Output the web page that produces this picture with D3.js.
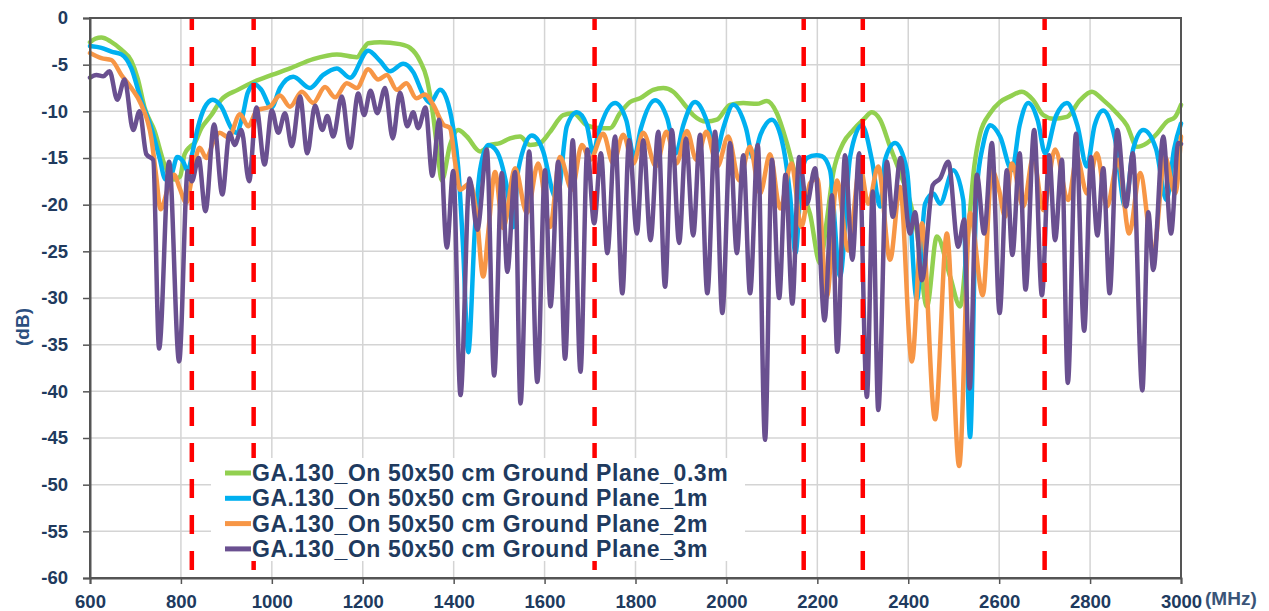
<!DOCTYPE html>
<html>
<head>
<meta charset="utf-8">
<script src="https://cdn.jsdelivr.net/npm/d3@7"></script>
<style>
  body { margin: 0; background: #fff; }
  svg { display: block; font-family: "Liberation Sans", Arial, sans-serif; }
</style>
</head>
<body>
<svg id="chart" width="1269" height="611"></svg>
<script>
'use strict';

// frequency (MHz), gain (dB)
var green = [[600,-2.6],[612,-2.2],[625,-2.1],[645,-2.5],[669,-3.4],[691,-4.6],[705,-6.5],[720,-9.6],[742,-12.1],[764,-15.7],[785,-17.3],[798,-17.0],[808,-14.6],[820,-13.8],[830,-13.4],[845,-11.8],[867,-10.4],[889,-8.75],[925,-7.7],[962,-6.8],[1000,-6.1],[1040,-5.4],[1091,-4.4],[1143,-3.9],[1187,-4.2],[1200,-3.4],[1212,-2.7],[1238,-2.6],[1282,-2.8],[1304,-3.2],[1326,-4.6],[1341,-6.5],[1355,-10.5],[1366,-15.0],[1374,-17.4],[1392,-13.6],[1410,-12.0],[1429,-12.7],[1458,-14.3],[1480,-13.6],[1502,-13.4],[1524,-12.9],[1546,-12.7],[1568,-13.6],[1590,-13.4],[1612,-12.2],[1641,-10.4],[1663,-10.2],[1693,-11.5],[1722,-11.8],[1744,-11.8],[1766,-10.2],[1788,-9.0],[1810,-8.6],[1839,-7.7],[1861,-7.5],[1883,-7.9],[1905,-9.1],[1927,-10.4],[1956,-11.1],[1979,-10.9],[2008,-9.3],[2037,-9.1],[2067,-9.2],[2089,-8.9],[2111,-10.2],[2133,-13.4],[2155,-17.4],[2184,-21.0],[2206,-26.3],[2220,-22.0],[2235,-16.6],[2257,-13.4],[2279,-12.0],[2301,-10.9],[2320,-10.1],[2338,-10.9],[2360,-13.8],[2382,-16.6],[2404,-19.7],[2419,-22.9],[2441,-30.9],[2463,-23.4],[2492,-27.7],[2514,-30.9],[2530,-24.0],[2545,-16.0],[2558,-12.4],[2580,-10.2],[2602,-9.0],[2624,-8.4],[2650,-7.9],[2675,-8.8],[2697,-10.4],[2719,-10.8],[2749,-10.6],[2778,-8.8],[2804,-7.9],[2829,-8.8],[2859,-10.2],[2881,-11.5],[2903,-13.8],[2925,-13.4],[2947,-12.4],[2969,-11.1],[2987,-10.6],[3000,-9.3]];

var blue = [[600,-3.0],[625,-3.2],[647,-3.6],[669,-3.9],[691,-5.4],[713,-8.9],[735,-11.8],[753,-15.0],[766,-17.3],[779,-16.8],[792,-14.9],[805,-15.4],[815,-16.4],[825,-14.5],[837,-11.8],[852,-9.6],[870,-8.75],[889,-9.5],[911,-11.8],[922,-12.3],[936,-10.4],[947,-8.0],[962,-7.1],[977,-7.7],[999,-9.6],[1018,-7.5],[1047,-6.3],[1084,-7.5],[1113,-6.1],[1143,-5.4],[1172,-6.4],[1212,-3.5],[1238,-4.6],[1260,-5.7],[1289,-4.9],[1311,-5.8],[1333,-8.2],[1348,-9.1],[1370,-7.7],[1384,-8.6],[1399,-11.8],[1410,-16.0],[1421,-24.9],[1432,-35.8],[1447,-22.4],[1458,-16.3],[1476,-13.6],[1495,-14.3],[1517,-18.1],[1531,-22.4],[1542,-16.3],[1572,-12.6],[1597,-14.3],[1619,-18.8],[1627,-19.5],[1649,-11.6],[1671,-10.1],[1693,-11.5],[1707,-14.5],[1718,-12.4],[1755,-9.1],[1780,-11.0],[1797,-14.9],[1812,-11.8],[1843,-8.8],[1870,-10.8],[1889,-14.5],[1905,-11.5],[1931,-9.0],[1958,-11.2],[1977,-14.5],[1993,-11.8],[2015,-9.3],[2043,-11.8],[2059,-15.0],[2075,-12.5],[2100,-10.9],[2125,-13.8],[2140,-19.0],[2152,-25.2],[2165,-17.0],[2177,-15.0],[2198,-14.7],[2210,-14.8],[2228,-16.3],[2250,-27.7],[2272,-14.9],[2298,-11.5],[2320,-15.2],[2338,-20.2],[2349,-15.2],[2371,-13.4],[2397,-16.3],[2419,-30.2],[2437,-19.9],[2455,-18.8],[2470,-19.9],[2499,-16.3],[2521,-19.5],[2536,-44.9],[2550,-18.8],[2565,-13.5],[2580,-11.5],[2602,-12.7],[2628,-16.3],[2645,-11.5],[2664,-9.1],[2685,-11.0],[2701,-14.5],[2725,-10.5],[2749,-9.1],[2772,-11.5],[2793,-15.9],[2810,-11.5],[2829,-9.9],[2855,-13.0],[2877,-20.2],[2895,-14.0],[2917,-12.0],[2945,-14.0],[2968,-19.5],[2985,-14.0],[3000,-11.3]];

var orange = [[600,-3.75],[625,-4.3],[647,-4.5],[669,-6.1],[691,-7.5],[713,-9.3],[735,-12.9],[746,-17.1],[755,-20.5],[772,-18.2],[785,-16.8],[797,-18.2],[812,-19.8],[823,-17.5],[841,-13.9],[856,-15.0],[872,-13.2],[885,-12.3],[905,-12.8],[930,-10.3],[948,-11.6],[967,-9.9],[996,-9.5],[1018,-8.3],[1040,-9.5],[1066,-7.9],[1091,-9.1],[1117,-7.4],[1139,-8.5],[1165,-7.0],[1187,-7.5],[1212,-5.5],[1234,-6.6],[1253,-6.1],[1275,-7.7],[1296,-7.0],[1318,-8.6],[1337,-8.2],[1355,-9.3],[1377,-11.4],[1392,-11.8],[1403,-15.4],[1414,-18.4],[1436,-17.7],[1451,-21.3],[1465,-27.7],[1476,-23.0],[1491,-16.5],[1509,-22.5],[1535,-16.1],[1561,-20.9],[1586,-15.6],[1612,-22.4],[1634,-14.9],[1660,-18.4],[1682,-13.6],[1700,-15.2],[1729,-12.4],[1751,-15.6],[1773,-12.5],[1795,-15.6],[1817,-12.3],[1845,-15.9],[1868,-12.2],[1890,-15.6],[1913,-12.1],[1934,-15.2],[1956,-12.2],[1980,-15.9],[2004,-12.7],[2028,-17.4],[2052,-13.8],[2074,-18.8],[2096,-14.6],[2118,-20.4],[2143,-15.6],[2165,-22.4],[2184,-17.7],[2200,-17.2],[2221,-29.9],[2243,-17.4],[2268,-24.9],[2294,-15.9],[2312,-19.9],[2334,-15.9],[2360,-25.9],[2382,-18.1],[2408,-36.8],[2430,-22.0],[2459,-43.0],[2485,-23.1],[2512,-48.0],[2536,-20.9],[2564,-29.7],[2584,-16.3],[2600,-18.5],[2613,-21.3],[2628,-15.6],[2653,-20.2],[2675,-14.9],[2697,-20.6],[2723,-14.1],[2752,-19.5],[2771,-14.9],[2793,-18.8],[2815,-14.5],[2837,-20.2],[2862,-15.2],[2886,-23.1],[2910,-16.6],[2939,-25.2],[2965,-14.9],[2987,-18.8],[3000,-12.7]];

var purple = [[600,-6.4],[614,-6.1],[629,-6.25],[643,-5.7],[660,-8.75],[676,-6.6],[695,-12.0],[709,-10.0],[724,-14.6],[739,-15.2],[752,-35.4],[774,-15.4],[796,-36.8],[815,-16.4],[824,-17.5],[839,-15.0],[854,-20.7],[873,-11.4],[891,-18.9],[907,-12.3],[918,-13.6],[933,-12.0],[950,-17.5],[966,-9.6],[984,-15.7],[1000,-9.9],[1014,-12.3],[1029,-10.2],[1044,-13.75],[1062,-8.4],[1078,-14.5],[1095,-9.4],[1111,-12.0],[1122,-10.5],[1135,-12.7],[1154,-8.4],[1172,-13.9],[1190,-8.1],[1203,-10.4],[1217,-7.8],[1232,-10.2],[1249,-7.5],[1266,-12.9],[1282,-8.0],[1298,-11.6],[1311,-10.1],[1322,-11.8],[1338,-9.6],[1353,-16.9],[1368,-10.9],[1385,-24.6],[1399,-16.4],[1415,-40.4],[1435,-17.2],[1452,-22.7],[1473,-14.1],[1489,-38.3],[1506,-16.6],[1518,-27.2],[1535,-16.5],[1547,-41.3],[1566,-14.3],[1584,-39.0],[1601,-16.3],[1613,-30.9],[1630,-15.4],[1645,-36.5],[1662,-13.1],[1679,-37.9],[1694,-14.1],[1709,-22.0],[1724,-14.5],[1738,-25.2],[1755,-12.7],[1771,-29.5],[1786,-13.1],[1803,-23.1],[1817,-13.1],[1833,-23.8],[1850,-12.2],[1865,-28.8],[1880,-12.0],[1896,-24.1],[1911,-12.9],[1927,-23.3],[1942,-12.5],[1958,-29.5],[1975,-12.2],[1991,-31.6],[2008,-13.4],[2023,-25.2],[2037,-14.7],[2052,-29.5],[2069,-13.6],[2085,-45.2],[2100,-15.2],[2116,-30.0],[2130,-16.8],[2145,-30.6],[2160,-14.9],[2177,-19.9],[2195,-16.1],[2216,-32.4],[2232,-19.0],[2244,-35.75],[2261,-14.7],[2277,-25.9],[2292,-14.5],[2309,-40.6],[2322,-18.6],[2334,-42.0],[2353,-15.4],[2366,-21.3],[2383,-15.0],[2404,-23.1],[2415,-20.8],[2430,-28.1],[2454,-17.9],[2470,-17.2],[2488,-15.4],[2510,-24.5],[2523,-21.6],[2535,-39.7],[2551,-16.8],[2567,-23.1],[2584,-13.4],[2601,-31.6],[2617,-16.3],[2629,-25.4],[2645,-14.5],[2658,-29.1],[2677,-12.0],[2694,-29.7],[2710,-14.7],[2723,-23.8],[2738,-15.2],[2751,-39.1],[2769,-12.4],[2787,-33.5],[2802,-14.9],[2816,-23.3],[2829,-16.1],[2843,-29.5],[2860,-12.0],[2879,-20.2],[2894,-14.5],[2915,-39.9],[2928,-20.8],[2939,-27.0],[2961,-12.7],[2978,-23.1],[2994,-13.4],[3000,-13.5]];

var seriesNames = [
  "GA.130_On 50x50 cm Ground Plane_0.3m",
  "GA.130_On 50x50 cm Ground Plane_1m",
  "GA.130_On 50x50 cm Ground Plane_2m",
  "GA.130_On 50x50 cm Ground Plane_3m"
];
var seriesColors = ["#92d050", "#00b0f0", "#f79646", "#6a5090"];
var markerFreqs = [824, 960, 1710, 2170, 2300, 2700];
var xTicks = d3.range(600, 3001, 200);
var yTicks = d3.range(-60, 1, 5);

(function() {
  var textColor = "#203a5e";
  var svg = d3.select("#chart");
  var pLeft = 90, pRight = 1181, pTop = 18, pBottom = 578;

  var x = d3.scaleLinear().domain([600, 3000]).range([pLeft, pRight]);
  var y = d3.scaleLinear().domain([-60, 0]).range([pBottom, pTop]);

  // grid
  var grid = svg.append("g").attr("class", "grid");
  grid.selectAll("line.v").data(xTicks).enter().append("line")
    .attr("class", "v")
    .attr("x1", function(d){ return x(d); }).attr("x2", function(d){ return x(d); })
    .attr("y1", pTop).attr("y2", pBottom)
    .attr("stroke", "#d4d4d4").attr("stroke-width", 1.5);
  grid.selectAll("line.h").data(yTicks).enter().append("line")
    .attr("class", "h")
    .attr("x1", pLeft).attr("x2", pRight)
    .attr("y1", function(d){ return y(d); }).attr("y2", function(d){ return y(d); })
    .attr("stroke", "#d4d4d4").attr("stroke-width", 1.5);

  // data lines
  var line = d3.line()
    .x(function(d){ return x(d[0]); })
    .y(function(d){ return y(d[1]); })
    .curve(d3.curveMonotoneX);

  var allSeries = [green, blue, orange, purple];
  svg.append("g").selectAll("path").data(allSeries).enter().append("path")
    .attr("d", line)
    .attr("fill", "none")
    .attr("stroke", function(d, i){ return seriesColors[i]; })
    .attr("stroke-width", 4.5)
    .attr("stroke-linejoin", "round")
    .attr("stroke-linecap", "round");

  // red band markers
  svg.append("g").selectAll("line").data(markerFreqs).enter().append("line")
    .attr("x1", function(d){ return x(d); }).attr("x2", function(d){ return x(d); })
    .attr("y1", pTop).attr("y2", pBottom)
    .attr("stroke", "#ff0000").attr("stroke-width", 4.5)
    .attr("stroke-dasharray", "19,17").attr("stroke-dashoffset", 7);

  // frame
  svg.append("rect")
    .attr("x", pLeft).attr("y", pTop).attr("width", pRight - pLeft).attr("height", pBottom - pTop)
    .attr("fill", "none").attr("stroke", "#555").attr("stroke-width", 2);

  // axes
  var plain = function(d){ return String(d); };
  var xAxis = svg.append("g")
    .attr("transform", "translate(0," + pBottom + ")")
    .call(d3.axisBottom(x).tickValues(xTicks).tickSize(6).tickPadding(11).tickFormat(plain));
  var yAxis = svg.append("g")
    .attr("transform", "translate(" + pLeft + ",0)")
    .call(d3.axisLeft(y).tickValues(yTicks).tickSize(7).tickPadding(15).tickFormat(plain));

  [xAxis, yAxis].forEach(function(a){
    a.select(".domain").attr("stroke", "#555").attr("stroke-width", 2);
    a.selectAll(".tick line").attr("stroke", "#555").attr("stroke-width", 1.5);
    a.selectAll(".tick text")
      .attr("fill", textColor)
      .attr("font-size", 18.5)
      .attr("font-weight", "bold")
      .attr("font-family", "'Liberation Sans', Arial, sans-serif");
  });

  svg.append("text")
    .attr("transform", "translate(29,327) rotate(-90)")
    .attr("text-anchor", "middle")
    .attr("fill", "#2b4f7e").attr("font-size", 19).attr("font-weight", "bold")
    .text("(dB)");

  svg.append("text")
    .attr("x", 1205).attr("y", 605)
    .attr("fill", "#3a5578").attr("font-size", 19).attr("font-weight", "bold")
    .text("(MHz)");

  // legend
  var legend = svg.append("g");
  legend.append("rect")
    .attr("x", 211).attr("y", 458).attr("width", 534).attr("height", 103)
    .attr("fill", "#fff");
  var rows = legend.selectAll("g.row").data(seriesNames).enter().append("g")
    .attr("class", "row")
    .attr("transform", function(d, i){ return "translate(0," + (473 + i * 25.3) + ")"; });
  rows.append("line")
    .attr("x1", 225).attr("x2", 251).attr("y1", 0).attr("y2", 0)
    .attr("stroke", function(d, i){ return seriesColors[i]; })
    .attr("stroke-width", 5);
  rows.append("text")
    .attr("x", 252).attr("y", 8)
    .attr("fill", textColor).attr("font-size", 23).attr("font-weight", "bold")
    .attr("letter-spacing", 0.55)
    .text(function(d){ return d; });
})();
</script>
</body>
</html>
